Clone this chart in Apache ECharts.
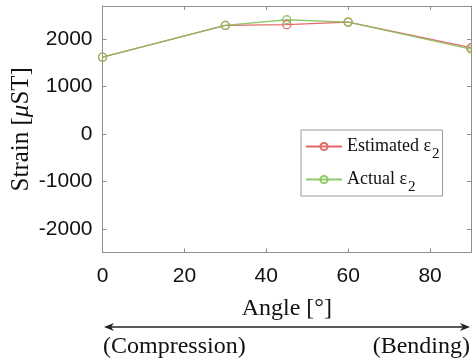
<!DOCTYPE html>
<html>
<head>
<meta charset="utf-8">
<script src="https://cdn.jsdelivr.net/npm/echarts@6/dist/echarts.min.js"></script>
<style>
  html, body { margin: 0; padding: 0; background: #fff; }
  #chart { width: 472px; height: 364px; }
</style>
</head>
<body>
<div id="chart"></div>
<script>
// ------------------------------ DATA ------------------------------
var angles = [0, 30, 45, 60, 90];
var estimatedStrain = [1620, 2290, 2305, 2360, 1820];
var actualStrain = [1620, 2290, 2410, 2360, 1790];
var xTicks = [0, 20, 40, 60, 80];
var yTicks = [-2000, -1000, 0, 1000, 2000];

// ---------------------------- SETTINGS ----------------------------
var serif = '"Liberation Serif", "Times New Roman", serif';
var sans = '"Liberation Sans", Arial, sans-serif';
var axisGrey = '#8f8f8f';
var textDark = '#111111';
var red = '#e46a6a';
var green = '#84c25a';

var toPairs = function (xs, ys) {
  return xs.map(function (x, i) { return [x, ys[i]]; });
};
var plainNumber = function (v) { return String(v); };

var chart = echarts.init(document.getElementById('chart'));

var legendLabels = { Estimated: 'Estimated ε', Actual: 'Actual ε' };

var baseX = {
  type: 'value', min: 0, max: 90,
  splitLine: { show: false },
  axisLine: { show: true, onZero: false, lineStyle: { color: axisGrey, width: 1 } },
  axisTick: { show: true, inside: true, length: 4, customValues: xTicks,
    lineStyle: { color: axisGrey } },
  axisLabel: { show: false, customValues: xTicks, formatter: plainNumber }
};
var baseY = {
  type: 'value', min: -2500, max: 2700,
  splitLine: { show: false },
  axisLine: { show: true, onZero: false, lineStyle: { color: axisGrey, width: 1 } },
  axisTick: { show: true, inside: true, length: 4, customValues: yTicks,
    lineStyle: { color: axisGrey } },
  axisLabel: { show: false, customValues: yTicks, formatter: plainNumber }
};

var option = {
  animation: false,
  backgroundColor: '#fff',
  grid: { left: 102.5, right: 1, top: 6, bottom: 111.5, containLabel: false, outerBoundsMode: 'none' },
  xAxis: [
    echarts.util.merge({
      position: 'bottom',
      name: 'Angle [°]',
      nameLocation: 'middle',
      nameGap: 44,
      nameMoveOverlap: false,
      nameTextStyle: { fontFamily: serif, fontSize: 24, color: textDark },
      axisLabel: { show: true, margin: 13, fontFamily: sans, fontSize: 21, color: textDark }
    }, baseX, false),
    echarts.util.merge({ position: 'top' }, baseX, false)
  ],
  yAxis: [
    echarts.util.merge({
      position: 'left',
      name: '{n|Strain [}{i|μ}{n|ST]}',
      nameLocation: 'middle',
      nameGap: 69,
      nameMoveOverlap: false,
      nameTextStyle: {
        rich: {
          n: { fontFamily: serif, fontSize: 25, color: textDark },
          i: { fontFamily: serif, fontSize: 25, fontStyle: 'italic', color: textDark }
        }
      },
      axisLabel: { show: true, margin: 10, fontFamily: sans, fontSize: 21, color: textDark }
    }, baseY, false),
    echarts.util.merge({ position: 'right' }, baseY, false)
  ],
  legend: {
    orient: 'vertical',
    left: 301, top: 130,
    padding: [1, 3, 1, 4],
    itemGap: 2,
    itemWidth: 36, itemHeight: 9,
    itemTextGap: 6,
    backgroundColor: '#fff',
    borderColor: '#9a9a9a', borderWidth: 1,
    data: ['Estimated', 'Actual'],
    formatter: function (name) {
      return '{m|' + legendLabels[name] + '}{s|2}';
    },
    textStyle: {
      rich: {
        m: { fontFamily: serif, fontSize: 18, lineHeight: 30, color: textDark },
        s: { fontFamily: serif, fontSize: 15, lineHeight: 14, padding: [16, 0, 0, 1], color: textDark }
      }
    }
  },
  graphic: [
    { type: 'line', shape: { x1: 108, y1: 327, x2: 466, y2: 327 },
      style: { stroke: '#222', lineWidth: 1.5 } },
    { type: 'polygon', shape: { points: [[104, 327], [114, 323], [111, 327], [114, 331]] },
      style: { fill: '#222' } },
    { type: 'polygon', shape: { points: [[470, 327], [460, 323], [463, 327], [460, 331]] },
      style: { fill: '#222' } },
    { type: 'text', left: 103, top: 335,
      style: { text: '(Compression)', font: '24px ' + serif, fill: textDark } },
    { type: 'text', right: 2, top: 335,
      style: { text: '(Bending)', font: '24px ' + serif, fill: textDark } }
  ],
  series: [
    {
      name: 'Estimated', type: 'line',
      data: toPairs(angles, estimatedStrain),
      symbol: 'circle', symbolSize: 8,
      clip: false,
      lineStyle: { color: red, width: 1.3 },
      itemStyle: { color: 'rgba(255,255,255,0)', borderColor: red, borderWidth: 1.3 }
    },
    {
      name: 'Actual', type: 'line',
      data: toPairs(angles, actualStrain),
      symbol: 'circle', symbolSize: 8,
      clip: false,
      lineStyle: { color: green, width: 1.3, opacity: 0.9 },
      itemStyle: { color: 'rgba(255,255,255,0)', borderColor: green, borderWidth: 1.3, opacity: 0.9 }
    }
  ]
};

chart.setOption(option);
</script>
</body>
</html>
